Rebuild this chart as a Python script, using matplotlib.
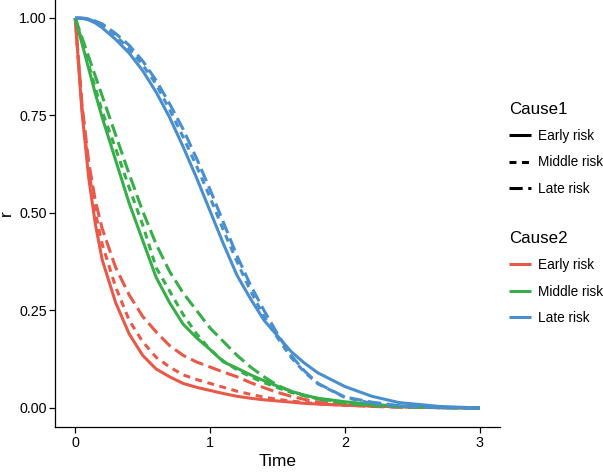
import matplotlib
matplotlib.use('Agg')
import matplotlib.pyplot as plt
from matplotlib.lines import Line2D
import numpy as np

plt.rcParams['font.family'] = ['Liberation Sans', 'DejaVu Sans']
plt.rcParams['lines.scale_dashes'] = False

# time grid and curves
time = [0, 0.05, 0.1, 0.15, 0.2, 0.3, 0.4, 0.5, 0.6, 0.7, 0.8, 0.9, 1.0,
        1.1, 1.2, 1.3, 1.4, 1.5, 1.6, 1.7, 1.8, 2.0, 2.2, 2.4, 2.7, 3.0]

# Cause2 = Early risk (red)
red_early = [1.0, 0.76, 0.59, 0.47, 0.38, 0.27, 0.19, 0.135, 0.10, 0.08, 0.063, 0.053, 0.045,
             0.037, 0.030, 0.025, 0.021, 0.018, 0.015, 0.012, 0.010, 0.007, 0.005, 0.003, 0.001, 0.0]
red_middle = [1.0, 0.77, 0.61, 0.50, 0.42, 0.31, 0.225, 0.17, 0.13, 0.105, 0.085, 0.073, 0.063,
              0.053, 0.043, 0.035, 0.028, 0.022, 0.018, 0.014, 0.011, 0.007, 0.005, 0.003, 0.001, 0.0]
red_late = [1.0, 0.78, 0.63, 0.53, 0.46, 0.36, 0.29, 0.235, 0.195, 0.16, 0.135, 0.118, 0.105,
            0.092, 0.08, 0.065, 0.052, 0.04, 0.03, 0.022, 0.015, 0.008, 0.004, 0.002, 0.001, 0.0]

# Cause2 = Middle risk (green)
green_early = [1.0, 0.935, 0.87, 0.805, 0.745, 0.635, 0.525, 0.43, 0.335, 0.27, 0.215, 0.18, 0.15,
               0.118, 0.102, 0.085, 0.07, 0.056, 0.043, 0.033, 0.025, 0.016, 0.009, 0.005, 0.002, 0.0]
green_middle = [1.0, 0.94, 0.88, 0.82, 0.76, 0.665, 0.565, 0.47, 0.36, 0.3, 0.24, 0.19, 0.15,
                0.12, 0.098, 0.08, 0.065, 0.052, 0.04, 0.031, 0.024, 0.014, 0.008, 0.004, 0.001, 0.0]
green_late = [1.0, 0.95, 0.9, 0.85, 0.8, 0.7, 0.6, 0.505, 0.42, 0.35, 0.295, 0.25, 0.205,
              0.17, 0.135, 0.105, 0.08, 0.058, 0.043, 0.032, 0.023, 0.012, 0.006, 0.003, 0.001, 0.0]

# Cause2 = Late risk (blue)
blue_early = [1.0, 0.999, 0.995, 0.987, 0.975, 0.945, 0.91, 0.865, 0.81, 0.745, 0.67, 0.59, 0.505,
              0.42, 0.34, 0.28, 0.225, 0.185, 0.145, 0.115, 0.09, 0.055, 0.03, 0.014, 0.004, 0.0]
blue_middle = [1.0, 0.999, 0.997, 0.99, 0.982, 0.955, 0.92, 0.88, 0.83, 0.765, 0.695, 0.62, 0.54,
               0.455, 0.375, 0.3, 0.235, 0.18, 0.13, 0.092, 0.062, 0.027, 0.012, 0.005, 0.001, 0.0]
blue_late = [1.0, 1.0, 0.998, 0.992, 0.985, 0.96, 0.93, 0.89, 0.84, 0.78, 0.715, 0.64, 0.56,
             0.475, 0.39, 0.315, 0.25, 0.19, 0.135, 0.095, 0.063, 0.028, 0.015, 0.006, 0.001, 0.0]

cause_labels = ['Early risk', 'Middle risk', 'Late risk']
colors = ['#E8594A', '#37AE49', '#4A8FCD']
dash_styles = ['-', (0, (5.0, 4.0)), (0, (9.5, 4.0))]

curves = [
    [red_early, red_middle, red_late],
    [green_early, green_middle, green_late],
    [blue_early, blue_middle, blue_late],
]

fig = plt.figure(figsize=(6.03, 4.73), dpi=100)
ax = fig.add_axes([0.0912, 0.0962, 0.738, 0.907])

lw = 2.2
for c2, color in enumerate(colors):
    for c1, ls in enumerate(dash_styles):
        ax.plot(time, curves[c2][c1], color=color, linestyle=ls, linewidth=lw,
                solid_capstyle='butt', dash_capstyle='butt')

ax.set_xlim(-0.15, 3.15)
ax.set_ylim(-0.05, 1.05)
ax.set_xticks([0, 1, 2, 3])
ax.set_yticks([0, 0.25, 0.5, 0.75, 1.0])
ax.set_yticklabels(['0.00', '0.25', '0.50', '0.75', '1.00'])
ax.tick_params(labelsize=10.3, length=4, width=0.9, colors='black', pad=2)
ax.spines['top'].set_visible(False)
ax.spines['right'].set_visible(False)
for s in ['left', 'bottom']:
    ax.spines[s].set_linewidth(0.9)
ax.set_xlabel('Time', fontsize=12.5, labelpad=3)
ax.set_ylabel('r', fontsize=12.5, labelpad=4)

# two legends on the right
h1 = [Line2D([], [], color='black', linestyle=ls, linewidth=lw,
             dash_capstyle='butt', solid_capstyle='butt') for ls in dash_styles]
h2 = [Line2D([], [], color=c, linewidth=lw, solid_capstyle='butt') for c in colors]

common = dict(frameon=False, fontsize=9.8, title_fontsize=12.2, handlelength=1.6,
              handletextpad=0.55, labelspacing=0.9, borderpad=0, borderaxespad=0,
              alignment='left', loc='upper left', bbox_transform=fig.transFigure)
leg1 = ax.legend(h1, cause_labels, title='Cause1', bbox_to_anchor=(509 / 603, 1 - 102 / 473), **common)
ax.add_artist(leg1)
leg2 = ax.legend(h2, cause_labels, title='Cause2', bbox_to_anchor=(509 / 603, 1 - 231 / 473), **common)

fig.savefig('out.png', dpi=100)
